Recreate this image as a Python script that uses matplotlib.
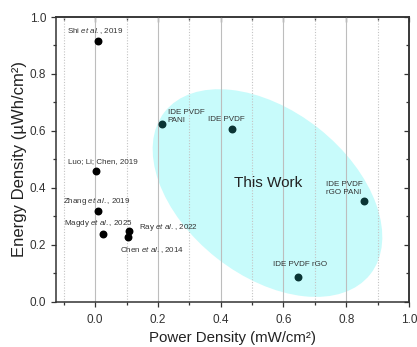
import numpy as np
import matplotlib
matplotlib.use('Agg')
import matplotlib.pyplot as plt
from matplotlib.patches import Ellipse
from matplotlib.transforms import Affine2D
from matplotlib import rcParams

rcParams.update({
    'font.family': ['Liberation Sans', 'DejaVu Sans'],
    'mathtext.fontset': 'custom',
    'mathtext.rm': 'Liberation Sans',
    'mathtext.it': 'Liberation Sans:italic',
})

# literature values
ref_names = ['Shi $\\it{et\\ al.}$, 2019', 'Luo; Li; Chen, 2019',
             'Zhang $\\it{et\\ al.}$, 2019', 'Magdy $\\it{et\\ al.}$, 2025',
             'Ray $\\it{et\\ al.}$, 2022', 'Chen $\\it{et\\ al.}$, 2014']
ref_power = [0.009, 0.003, 0.009, 0.025, 0.109, 0.104]
ref_energy = [0.917, 0.46, 0.318, 0.24, 0.249, 0.229]

# devices from this work
work_names = ['IDE PVDF\nPANI', 'IDE PVDF', 'IDE PVDF\nrGO PANI', 'IDE PVDF rGO']
work_power = [0.214, 0.436, 0.856, 0.647]
work_energy = [0.626, 0.607, 0.355, 0.089]

# label offsets (points) from each marker
ref_offsets = [(-22, 7), (-20, 6.5), (-25, 7), (-28, 7), (7, 2.7), (-5.5, -10)]
work_offsets = [(4, 5), (-17, 6.5), (-27, 9), (-18, 8.5)]

FIG = plt.figure(figsize=(4.17, 3.47), dpi=100)
ax = FIG.add_axes([0.134, 0.130, 0.847, 0.821])
ax.set_xlim(-0.125, 1.0)
ax.set_ylim(0, 1.0)

# highlight region around this work (sized in pixels, centred in data units)
sx = ax.bbox.width / 1.125
sy = ax.bbox.height / 1.0
cx, cy = 0.549, 0.382
ell = Ellipse((cx * sx, cy * sy), 262, 165, angle=-38.3,
              facecolor='#c8fbfb', edgecolor='none', zorder=1,
              transform=Affine2D().scale(1 / sx, 1 / sy) + ax.transData)
ax.add_patch(ell)

ax.scatter(ref_power, ref_energy, s=22, color='black', zorder=3)
ax.scatter(work_power, work_energy, s=22, color='#0a3434', zorder=3)

for name, x, y, off in zip(ref_names, ref_power, ref_energy, ref_offsets):
    ax.annotate(name, (x, y), xytext=off, textcoords='offset points',
                ha='left', va='center', fontsize=5.8, color='#333333')
for name, x, y, off in zip(work_names, work_power, work_energy, work_offsets):
    ax.annotate(name, (x, y), xytext=off, textcoords='offset points',
                ha='left', va='center', fontsize=5.8, color='#333333',
                linespacing=1.15)

ax.text(0.441, 0.418, 'This Work', fontsize=11, color='#222222',
        ha='left', va='center')

ax.set_xticks(np.arange(0, 1.01, 0.2))
ax.set_xticks(np.arange(-0.1, 1.0, 0.1), minor=True)
ax.set_yticks(np.arange(0, 1.01, 0.2))
ax.set_yticks(np.arange(0.1, 1.0, 0.2), minor=True)
ax.set_xticklabels(['%.1f' % v for v in np.arange(0, 1.01, 0.2)])
ax.set_yticklabels(['%.1f' % v for v in np.arange(0, 1.01, 0.2)])

ax.grid(axis='x', which='major', color='#bdbdbd', lw=0.8, ls='-')
ax.grid(axis='x', which='minor', color='#c4c4c4', lw=0.8, ls=(0, (1, 1.5)))

ax.tick_params(which='both', direction='out', colors='#333333',
               labelsize=8.5, labelcolor='#333333', width=0.9)
ax.tick_params(which='major', length=3.5)
ax.tick_params(which='minor', length=2)
ax.tick_params(axis='x', pad=5)

# inward ticks on the top and right spines
top = ax.secondary_xaxis('top')
top.set_xticks(np.arange(0, 1.01, 0.2))
top.set_xticks(np.arange(-0.1, 1.0, 0.1), minor=True)
right = ax.secondary_yaxis('right')
right.set_yticks(np.arange(0, 1.01, 0.2))
right.set_yticks(np.arange(0.1, 1.0, 0.2), minor=True)
for sec in (top, right):
    sec.tick_params(which='both', direction='in', colors='#333333',
                    labelleft=False, labelright=False, labeltop=False,
                    labelbottom=False, width=0.9)
    sec.tick_params(which='major', length=3.5)
    sec.tick_params(which='minor', length=2)
    for sp in sec.spines.values():
        sp.set_color('#333333')
        sp.set_linewidth(1.1)

for sp in ax.spines.values():
    sp.set_color('#333333')
    sp.set_linewidth(1.1)

ax.set_xlabel('Power Density (mW/cm²)', fontsize=10.8, color='#222222',
              labelpad=4)
ax.set_ylabel('Energy Density (µWh/cm²)', fontsize=12, color='#222222',
              labelpad=2)

FIG.savefig('out.png', dpi=100)
